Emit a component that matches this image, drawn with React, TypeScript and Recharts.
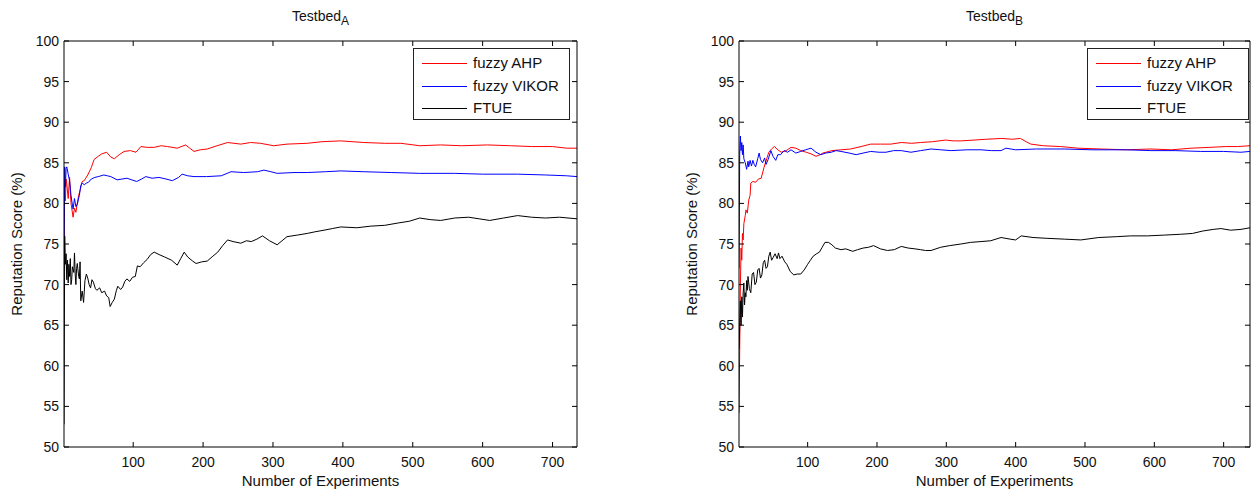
import React from "react";
import { LineChart, Line, XAxis, YAxis } from "recharts";

const FONT = '"Liberation Sans", Arial, Helvetica, sans-serif';

const xTicks = [100, 200, 300, 400, 500, 600, 700];
const yTicks = [50, 55, 60, 65, 70, 75, 80, 85, 90, 95, 100];
const seriesNames = ["fuzzy AHP", "fuzzy VIKOR", "FTUE"];
const seriesColors = ["#ff0000", "#0000ff", "#000000"];

// Testbed A  [experiment, score]
const ahpA: [number, number][] = [
  [1, 73.0], [2, 82.5], [3, 80.3], [4, 83.0], [5, 82.4], [7, 80.6], [9, 83.2], [11, 80.0],
  [14, 78.3], [16, 79.4], [18, 78.9], [20, 80.0], [22, 81.0], [24, 81.6], [27, 82.7], [30, 82.8],
  [35, 83.5], [40, 84.4], [44, 85.4], [50, 85.8], [55, 86.1], [62, 86.3], [68, 85.7], [73, 85.5],
  [80, 86.0], [87, 86.4], [96, 86.5], [104, 86.3], [111, 87.0], [120, 86.9], [130, 86.9], [140, 87.1],
  [149, 87.0], [163, 86.8], [175, 87.2], [181, 86.8], [187, 86.4], [196, 86.6], [206, 86.7], [220, 87.1],
  [235, 87.5], [254, 87.3], [268, 87.5], [282, 87.4], [301, 87.1], [320, 87.3], [349, 87.4], [370, 87.6],
  [397, 87.7], [430, 87.5], [460, 87.4], [483, 87.4], [510, 87.1], [540, 87.2], [570, 87.1], [607, 87.2],
  [640, 87.1], [670, 87.0], [700, 87.0], [720, 86.8], [735, 86.8],
];

const vikorA: [number, number][] = [
  [1, 73.5], [2, 84.5], [3, 82.0], [4, 84.3], [5, 84.5], [7, 83.6], [9, 82.8], [11, 81.0],
  [13, 79.8], [14, 79.3], [16, 80.6], [18, 79.6], [20, 79.9], [23, 81.0], [25, 82.2], [27, 82.5],
  [30, 82.3], [33, 82.5], [36, 82.6], [40, 83.0], [45, 83.2], [50, 83.3], [58, 83.5], [63, 83.4],
  [68, 83.3], [77, 82.9], [84, 83.0], [91, 83.1], [98, 82.9], [105, 82.7], [112, 83.0], [118, 83.3],
  [127, 83.1], [137, 83.2], [147, 83.0], [156, 82.8], [165, 83.2], [170, 83.6], [178, 83.4], [187, 83.3],
  [205, 83.3], [226, 83.4], [240, 83.9], [258, 83.8], [278, 83.9], [287, 84.1], [297, 83.9], [306, 83.7],
  [330, 83.8], [349, 83.8], [375, 83.9], [397, 84.0], [430, 83.9], [470, 83.8], [510, 83.7], [560, 83.7],
  [600, 83.6], [650, 83.6], [690, 83.5], [720, 83.4], [735, 83.3],
];

const ftueA: [number, number][] = [
  [1, 52.8], [2, 76.0], [3, 72.5], [4, 73.8], [5, 70.6], [6, 73.0], [7, 70.2], [8, 72.5],
  [9, 71.0], [10, 73.2], [11, 70.0], [12, 70.6], [13, 72.2], [15, 71.5], [16, 73.9], [17, 71.3],
  [18, 70.0], [19, 72.0], [20, 72.6], [22, 71.0], [23, 70.7], [24, 72.8], [25, 68.0], [27, 69.2],
  [29, 67.8], [31, 70.5], [33, 71.3], [35, 70.8], [37, 70.0], [39, 69.6], [41, 70.6], [43, 70.3],
  [46, 69.5], [48, 69.3], [52, 69.6], [55, 69.0], [59, 69.2], [62, 68.6], [65, 68.4], [67, 67.3],
  [70, 67.8], [73, 68.2], [76, 69.3], [78, 69.8], [82, 69.4], [85, 69.7], [88, 70.4], [91, 70.7],
  [95, 70.4], [99, 70.9], [103, 71.0], [106, 72.3], [110, 72.2], [115, 72.7], [120, 73.1], [125, 73.7],
  [130, 74.0], [137, 73.7], [145, 73.4], [155, 73.0], [163, 72.4], [168, 73.2], [173, 74.0], [178, 73.4],
  [185, 72.9], [190, 72.6], [198, 72.8], [206, 72.9], [214, 73.5], [221, 74.0], [228, 74.8], [235, 75.5],
  [243, 75.3], [254, 75.1], [262, 75.4], [269, 75.3], [277, 75.6], [285, 76.0], [295, 75.4], [306, 74.9],
  [313, 75.4], [320, 75.9], [335, 76.1], [349, 76.3], [360, 76.5], [373, 76.7], [385, 76.9], [397, 77.1],
  [420, 77.0], [440, 77.2], [460, 77.3], [480, 77.6], [495, 77.8], [510, 78.2], [525, 78.0], [540, 77.9],
  [560, 78.2], [580, 78.3], [595, 78.1], [610, 77.9], [630, 78.2], [650, 78.5], [670, 78.3], [690, 78.2],
  [710, 78.3], [735, 78.1],
];

// Testbed B
const ahpB: [number, number][] = [
  [1, 54.2], [2, 62.0], [3, 70.0], [4, 74.5], [5, 73.0], [6, 76.3], [7, 75.5], [8, 77.5],
  [10, 78.5], [11, 79.2], [13, 78.8], [15, 80.4], [17, 81.0], [18, 82.5], [21, 82.7], [25, 82.6],
  [29, 83.0], [33, 83.1], [37, 84.4], [41, 85.5], [44, 86.3], [48, 86.7], [52, 87.0], [57, 86.6],
  [62, 86.3], [69, 86.5], [76, 86.9], [83, 86.8], [90, 86.5], [98, 86.3], [105, 86.1], [112, 85.8],
  [118, 86.0], [122, 86.2], [135, 86.5], [148, 86.6], [162, 86.7], [177, 87.0], [191, 87.3], [205, 87.3],
  [220, 87.3], [235, 87.5], [250, 87.4], [263, 87.5], [280, 87.6], [299, 87.8], [310, 87.7], [321, 87.7],
  [340, 87.8], [357, 87.9], [380, 88.0], [395, 87.9], [407, 88.0], [415, 87.6], [422, 87.3], [440, 87.1],
  [465, 87.0], [490, 86.8], [523, 86.7], [560, 86.6], [595, 86.7], [625, 86.6], [653, 86.8], [680, 86.9],
  [703, 87.0], [720, 87.0], [738, 87.1],
];

const vikorB: [number, number][] = [
  [1, 72.0], [2, 86.0], [3, 88.3], [4, 86.5], [5, 87.5], [6, 86.0], [7, 87.2], [8, 85.5],
  [10, 85.0], [12, 84.2], [14, 85.2], [15, 84.5], [17, 85.3], [19, 84.6], [21, 85.3], [23, 84.8],
  [25, 84.5], [28, 85.5], [30, 86.2], [32, 85.4], [35, 85.0], [38, 85.6], [40, 84.8], [43, 85.4],
  [47, 86.5], [50, 85.8], [54, 85.3], [57, 86.0], [61, 86.0], [66, 86.5], [71, 86.3], [76, 86.6],
  [83, 86.2], [90, 86.4], [97, 86.6], [105, 86.8], [112, 86.3], [119, 86.0], [126, 86.2], [134, 86.3],
  [141, 86.5], [148, 86.4], [160, 86.2], [170, 86.0], [180, 86.2], [191, 86.4], [203, 86.3], [213, 86.3],
  [224, 86.5], [235, 86.5], [249, 86.3], [263, 86.5], [278, 86.7], [292, 86.6], [307, 86.5], [330, 86.6],
  [350, 86.6], [365, 86.5], [379, 86.5], [386, 86.8], [400, 86.6], [430, 86.7], [470, 86.7], [510, 86.6],
  [560, 86.6], [595, 86.5], [630, 86.5], [667, 86.4], [700, 86.4], [725, 86.3], [738, 86.4],
];

const ftueB: [number, number][] = [
  [1, 62.0], [2, 64.8], [3, 68.0], [4, 65.0], [5, 68.5], [6, 66.0], [7, 69.0], [8, 70.2],
  [9, 67.5], [10, 69.0], [11, 68.5], [12, 70.5], [13, 69.3], [14, 71.0], [16, 69.5], [18, 69.0],
  [20, 71.3], [22, 71.5], [24, 70.0], [26, 70.3], [28, 71.8], [30, 72.0], [32, 70.8], [34, 71.2],
  [36, 72.7], [38, 73.0], [40, 72.0], [42, 72.2], [44, 73.5], [46, 74.0], [48, 73.0], [50, 73.3],
  [53, 73.8], [56, 73.2], [58, 73.9], [60, 73.2], [63, 73.5], [67, 72.8], [70, 72.5], [75, 71.6],
  [80, 71.2], [85, 71.3], [90, 71.3], [95, 71.8], [100, 72.5], [104, 73.0], [108, 73.5], [113, 73.8],
  [117, 74.0], [121, 74.6], [125, 75.2], [130, 75.2], [135, 74.9], [140, 74.5], [148, 74.3], [155, 74.4],
  [165, 74.1], [172, 74.3], [180, 74.5], [188, 74.6], [195, 74.8], [205, 74.4], [215, 74.2], [225, 74.3],
  [235, 74.7], [245, 74.5], [255, 74.4], [263, 74.3], [270, 74.2], [278, 74.2], [292, 74.6], [305, 74.8],
  [321, 75.0], [335, 75.2], [350, 75.3], [364, 75.4], [379, 75.8], [392, 75.6], [400, 75.5], [408, 76.0],
  [425, 75.8], [445, 75.7], [470, 75.6], [494, 75.5], [520, 75.8], [545, 75.9], [566, 76.0], [590, 76.0],
  [615, 76.1], [638, 76.2], [655, 76.3], [670, 76.6], [685, 76.8], [696, 76.9], [710, 76.7], [725, 76.8],
  [738, 77.0],
];

const toPoints = (pts: [number, number][]) => pts.map(([x, y]) => ({ x, y }));

const PLOT_TOP = 41;
const PLOT_BOTTOM = 447;
const HEIGHT = 492;
const Y_AXIS_W = 40;
const X_AXIS_H = 30;

const BottomTick = (props: any) => {
  const { x, y, payload } = props;
  return (
    <g>
      <line x1={x} x2={x} y1={y} y2={y - 5} stroke="#000" />
      <text x={x} y={y + 20} textAnchor="middle" fontSize={14} fontFamily={FONT} fill="#111">
        {payload.value}
      </text>
    </g>
  );
};

const TopTick = (props: any) => {
  const { x, y } = props;
  return <line x1={x} x2={x} y1={y} y2={y + 5} stroke="#000" />;
};

const LeftTick = (props: any) => {
  const { x, y, payload } = props;
  return (
    <g>
      <line x1={x} x2={x + 5} y1={y} y2={y} stroke="#000" />
      <text x={x - 5} y={y + 5} textAnchor="end" fontSize={14} fontFamily={FONT} fill="#111">
        {payload.value}
      </text>
    </g>
  );
};

const RightTick = (props: any) => {
  const { x, y } = props;
  return <line x1={x} x2={x - 5} y1={y} y2={y} stroke="#000" />;
};

interface PanelProps {
  left: number;
  width: number;
  plotLeft: number;
  plotRight: number;
  xMax: number;
  sub: string;
  series: [number, number][][];
  legendLeft: number;
  legendWidth: number;
  labelX: number;
}

function Panel({ left, width, plotLeft, plotRight, xMax, sub, series, legendLeft, legendWidth, labelX }: PanelProps) {
  const margin = {
    top: PLOT_TOP - 1,
    left: plotLeft - Y_AXIS_W,
    right: width - plotRight - 1,
    bottom: HEIGHT - PLOT_BOTTOM - X_AXIS_H,
  };
  const plotW = plotRight - plotLeft;
  const axisLine = { stroke: "#000", strokeWidth: 1 };
  return (
    <div style={{ position: "absolute", left, top: 0, width, height: HEIGHT }}>
      <LineChart width={width} height={HEIGHT} margin={margin}>
        <XAxis
          xAxisId="b"
          dataKey="x"
          type="number"
          domain={[1, xMax]}
          ticks={xTicks}
          interval={0}
          allowDataOverflow
          height={X_AXIS_H}
          tickSize={0}
          tickMargin={0}
          tickLine={false}
          axisLine={axisLine}
          tick={BottomTick}
        />
        <XAxis
          xAxisId="t"
          orientation="top"
          dataKey="x"
          type="number"
          domain={[1, xMax]}
          ticks={xTicks}
          interval={0}
          allowDataOverflow
          height={1}
          tickSize={0}
          tickMargin={0}
          tickLine={false}
          axisLine={axisLine}
          tick={TopTick}
        />
        <YAxis
          yAxisId="l"
          type="number"
          domain={[50, 100]}
          ticks={yTicks}
          interval={0}
          allowDataOverflow
          width={Y_AXIS_W}
          tickSize={0}
          tickMargin={0}
          tickLine={false}
          axisLine={axisLine}
          tick={LeftTick}
        />
        <YAxis
          yAxisId="r"
          orientation="right"
          type="number"
          domain={[50, 100]}
          ticks={yTicks}
          interval={0}
          allowDataOverflow
          width={1}
          tickSize={0}
          tickMargin={0}
          tickLine={false}
          axisLine={axisLine}
          tick={RightTick}
        />
        {series.map((pts, i) => (
          <Line
            key={seriesNames[i]}
            xAxisId="b"
            yAxisId="l"
            data={toPoints(pts)}
            dataKey="y"
            name={seriesNames[i]}
            type="linear"
            stroke={seriesColors[i]}
            strokeWidth={1}
            dot={false}
            activeDot={false}
            isAnimationActive={false}
          />
        ))}
      </LineChart>

      <div
        style={{
          position: "absolute",
          left: plotLeft,
          top: 8,
          width: plotW,
          textAlign: "center",
          fontFamily: FONT,
          fontSize: 14,
          lineHeight: "16px",
          color: "#111",
        }}
      >
        Testbed<sub style={{ fontSize: 12, verticalAlign: "-4px", lineHeight: 0 }}>{sub}</sub>
      </div>

      <div
        style={{
          position: "absolute",
          left: plotLeft,
          top: 473,
          width: plotW,
          textAlign: "center",
          fontFamily: FONT,
          fontSize: 15,
          lineHeight: "16px",
          color: "#111",
        }}
      >
        Number of Experiments
      </div>

      <div
        style={{
          position: "absolute",
          left: labelX - 100,
          top: (PLOT_TOP + PLOT_BOTTOM) / 2 - 8,
          width: 200,
          height: 16,
          lineHeight: "16px",
          textAlign: "center",
          transform: "rotate(-90deg)",
          fontFamily: FONT,
          fontSize: 15,
          color: "#111",
        }}
      >
        Reputation Score (%)
      </div>

      <div
        style={{
          position: "absolute",
          left: legendLeft,
          top: 48,
          width: legendWidth,
          height: 72,
          border: "1px solid #222",
          background: "#fff",
          boxSizing: "border-box",
          fontFamily: FONT,
          fontSize: 15,
          color: "#111",
        }}
      >
        {seriesNames.map((name, i) => (
          <div key={name} style={{ position: "absolute", left: 8, top: 5 + Math.round(i * 22.7), height: 18, whiteSpace: "nowrap" }}>
            <div
              style={{
                position: "absolute",
                left: 0,
                top: 9,
                width: 45,
                height: 0,
                borderTop: `1px solid ${seriesColors[i]}`,
              }}
            />
            <span style={{ position: "absolute", left: 51, top: 0, lineHeight: "18px" }}>{name}</span>
          </div>
        ))}
      </div>
    </div>
  );
}

export default function App() {
  return (
    <div style={{ position: "absolute", left: 0, top: 0, width: 1253, height: HEIGHT, background: "#fff" }}>
      <Panel
        left={0}
        width={620}
        plotLeft={64}
        plotRight={577}
        xMax={735}
        sub="A"
        series={[ahpA, vikorA, ftueA]}
        legendLeft={413}
        legendWidth={157}
        labelX={17}
      />
      <Panel
        left={626}
        width={627}
        plotLeft={113}
        plotRight={624}
        xMax={738}
        sub="B"
        series={[ahpB, vikorB, ftueB]}
        legendLeft={461}
        legendWidth={162}
        labelX={66}
      />
    </div>
  );
}
